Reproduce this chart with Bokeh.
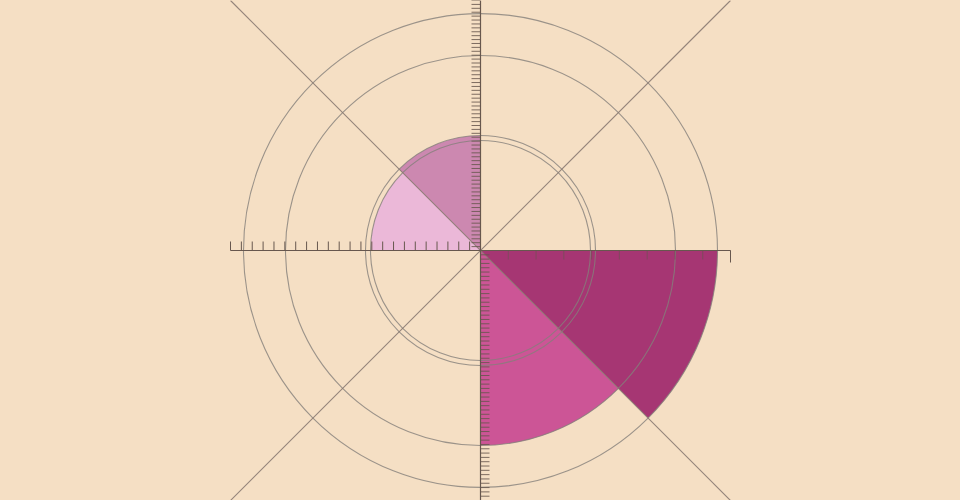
from bokeh.plotting import figure
from bokeh.models import Range1d
from bokeh.embed import file_html
from bokeh.resources import INLINE
import numpy as np

# ---- data ----
sectors = ["east-south", "south-east", "west-north", "north-west"]
values = [237, 195, 110, 115]            # radial value of each sector
start_deg = [-45, -90, 135, 90]          # sector start angle (deg, anticlockwise from east)
sector_width = 45
colors = ["#A63673", "#CC5596", "#EBB8D8", "#CC88B0"]

axis_extent = 250                        # half length of each axis
tick_counts = {"left": 23, "right": 9, "top": 64, "bottom": 58}

bg = "#F5DFC4"

p = figure(width=960, height=500, x_range=Range1d(-480, 480), y_range=Range1d(-250, 250),
           output_backend="svg", toolbar_location=None, min_border=0)
p.axis.visible = False
p.grid.visible = False
p.outline_line_color = None
p.background_fill_color = bg
p.border_fill_color = bg

# wedges
for v, s, c in zip(values, start_deg, colors):
    p.wedge(x=0, y=0, radius=v, start_angle=np.radians(s), end_angle=np.radians(s + sector_width),
            fill_color=c, line_color=None)

# rings at each value
for v in values:
    p.circle(x=0, y=0, radius=v, fill_color=None, line_color="#857f7a", line_alpha=0.8, line_width=1.1)

# diagonals
d = axis_extent
p.segment(x0=[-d, -d], y0=[d, -d], x1=[d, d], y1=[-d, d], line_color="#8a7a72", line_alpha=0.9, line_width=1.1)

# axes lines
axis_col = "#67574e"
p.segment(x0=[-d, 0], y0=[0, -d], x1=[d, 0], y1=[0, d], line_color=axis_col, line_width=1.2)

tl = 9
# left ticks (above)
xs = np.linspace(-d, 0, tick_counts["left"] + 1)
p.segment(x0=xs, y0=0, x1=xs, y1=tl, line_color=axis_col, line_width=1)
# right ticks (below)
xs = np.linspace(0, d, tick_counts["right"] + 1)
p.segment(x0=xs, y0=0, x1=xs, y1=-tl, line_color=axis_col, line_alpha=0.6, line_width=1)
p.segment(x0=[d], y0=[0], x1=[d], y1=[-12], line_color=axis_col, line_width=1)
# top ticks (left)
ys = np.linspace(0, d, tick_counts["top"] + 1)
p.segment(x0=-tl, y0=ys, x1=0, y1=ys, line_color=axis_col, line_alpha=0.85, line_width=1)
# bottom ticks (right)
ys = np.linspace(-d, 0, tick_counts["bottom"] + 1)
p.segment(x0=0, y0=ys, x1=tl, y1=ys, line_color=axis_col, line_alpha=0.85, line_width=1)

html = file_html(p, INLINE)
html = html.replace("</head>", "<style>html,body{margin:0;padding:0;background:%s;overflow:hidden}</style></head>" % bg)
open("out.html", "w").write(html)
